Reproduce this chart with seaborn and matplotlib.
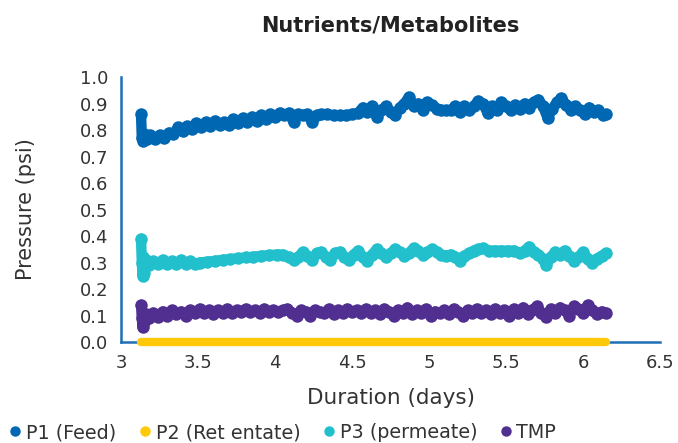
import matplotlib
matplotlib.use("Agg")
import matplotlib.pyplot as plt
import seaborn as sns
import pandas as pd
from matplotlib.lines import Line2D

# ---------------- data ----------------
p1_days = [3.13, 3.135, 3.14, 3.15, 3.17, 3.19, 3.22, 3.25, 3.28, 3.31, 3.34, 3.37, 3.40, 3.43, 3.46,
           3.49, 3.52, 3.55, 3.58, 3.61, 3.64, 3.67, 3.70, 3.73, 3.76, 3.79, 3.82, 3.85, 3.88, 3.91,
           3.94, 3.97, 4.00, 4.03, 4.06, 4.09, 4.12, 4.15, 4.18, 4.21, 4.24, 4.27, 4.30, 4.34, 4.38,
           4.42, 4.46, 4.50, 4.54, 4.57, 4.60, 4.63, 4.66, 4.69, 4.72, 4.75, 4.78, 4.81, 4.84, 4.87,
           4.90, 4.93, 4.96, 4.99, 5.02, 5.05, 5.08, 5.11, 5.14, 5.17, 5.20, 5.23, 5.26, 5.29, 5.32,
           5.35, 5.38, 5.41, 5.44, 5.47, 5.50, 5.53, 5.56, 5.59, 5.62, 5.65, 5.68, 5.71, 5.74, 5.77,
           5.80, 5.83, 5.86, 5.89, 5.92, 5.95, 5.98, 6.01, 6.04, 6.07, 6.10, 6.13, 6.15]
p1_feed = [0.86, 0.77, 0.76, 0.785, 0.765, 0.78, 0.765, 0.78, 0.77, 0.79, 0.785, 0.81, 0.795, 0.815, 0.805,
           0.825, 0.81, 0.83, 0.815, 0.835, 0.82, 0.83, 0.82, 0.84, 0.825, 0.845, 0.83, 0.85, 0.835, 0.855,
           0.84, 0.86, 0.85, 0.865, 0.855, 0.865, 0.83, 0.86, 0.855, 0.86, 0.83, 0.855, 0.86, 0.86, 0.855,
           0.855, 0.855, 0.86, 0.865, 0.885, 0.87, 0.89, 0.85, 0.875, 0.89, 0.87, 0.855, 0.885, 0.90, 0.925,
           0.89, 0.90, 0.875, 0.905, 0.895, 0.88, 0.875, 0.875, 0.875, 0.89, 0.87, 0.89, 0.875, 0.89, 0.91,
           0.90, 0.865, 0.89, 0.875, 0.905, 0.89, 0.875, 0.895, 0.88, 0.90, 0.885, 0.905, 0.915, 0.89, 0.845,
           0.88, 0.905, 0.92, 0.895, 0.875, 0.89, 0.875, 0.86, 0.885, 0.87, 0.875, 0.855, 0.86]

p2_days = [3.13, 3.5, 4.0, 4.5, 5.0, 5.5, 6.0, 6.15]
p2_retentate = [0.0, 0.0, 0.0, 0.0, 0.0, 0.0, 0.0, 0.0]

p3_days = [3.13, 3.135, 3.14, 3.145, 3.15, 3.16, 3.18, 3.21, 3.24, 3.27, 3.30, 3.33, 3.36, 3.39, 3.42,
           3.45, 3.48, 3.51, 3.56, 3.61, 3.66, 3.71, 3.76, 3.81, 3.86, 3.91, 3.96, 4.01, 4.05, 4.09,
           4.12, 4.15, 4.18, 4.21, 4.24, 4.27, 4.30, 4.33, 4.36, 4.39, 4.42, 4.45, 4.48, 4.51, 4.54,
           4.57, 4.60, 4.63, 4.66, 4.69, 4.72, 4.75, 4.78, 4.81, 4.84, 4.87, 4.90, 4.93, 4.96, 4.99,
           5.02, 5.05, 5.08, 5.11, 5.14, 5.17, 5.20, 5.23, 5.26, 5.29, 5.32, 5.35, 5.39, 5.43, 5.47,
           5.51, 5.55, 5.59, 5.62, 5.65, 5.68, 5.71, 5.74, 5.76, 5.79, 5.82, 5.85, 5.88, 5.91, 5.94,
           5.97, 6.00, 6.03, 6.06, 6.09, 6.12, 6.15]
p3_permeate = [0.39, 0.30, 0.25, 0.32, 0.26, 0.31, 0.29, 0.305, 0.295, 0.31, 0.295, 0.305, 0.295, 0.31, 0.295,
               0.305, 0.295, 0.30, 0.303, 0.306, 0.31, 0.313, 0.316, 0.319, 0.322, 0.325, 0.328, 0.33, 0.33, 0.32,
               0.31, 0.32, 0.34, 0.325, 0.31, 0.335, 0.34, 0.32, 0.31, 0.335, 0.34, 0.32, 0.31, 0.33, 0.345,
               0.32, 0.305, 0.33, 0.35, 0.335, 0.32, 0.335, 0.35, 0.34, 0.325, 0.335, 0.355, 0.345, 0.33, 0.34,
               0.35, 0.34, 0.33, 0.325, 0.33, 0.32, 0.305, 0.325, 0.335, 0.345, 0.35, 0.355, 0.345, 0.345, 0.345,
               0.345, 0.345, 0.335, 0.345, 0.36, 0.34, 0.33, 0.315, 0.29, 0.32, 0.34, 0.33, 0.345, 0.325, 0.305,
               0.32, 0.34, 0.315, 0.30, 0.315, 0.325, 0.335]

tmp_days = [3.13, 3.135, 3.14, 3.145, 3.15, 3.16, 3.18, 3.21, 3.24, 3.27, 3.30, 3.33, 3.36, 3.39, 3.42,
            3.45, 3.48, 3.51, 3.54, 3.57, 3.60, 3.63, 3.66, 3.69, 3.72, 3.75, 3.78, 3.81, 3.84, 3.87,
            3.90, 3.93, 3.96, 3.99, 4.02, 4.05, 4.08, 4.11, 4.14, 4.17, 4.20, 4.23, 4.26, 4.29, 4.32,
            4.35, 4.38, 4.41, 4.44, 4.47, 4.50, 4.53, 4.56, 4.59, 4.62, 4.65, 4.68, 4.71, 4.74, 4.77,
            4.80, 4.83, 4.86, 4.89, 4.92, 4.95, 4.98, 5.01, 5.04, 5.07, 5.10, 5.13, 5.16, 5.19, 5.22,
            5.25, 5.28, 5.31, 5.34, 5.37, 5.40, 5.43, 5.46, 5.49, 5.52, 5.55, 5.58, 5.61, 5.64, 5.67,
            5.70, 5.73, 5.76, 5.79, 5.82, 5.85, 5.88, 5.91, 5.94, 5.97, 6.00, 6.03, 6.06, 6.09, 6.12, 6.15]
tmp = [0.14, 0.09, 0.055, 0.10, 0.075, 0.105, 0.09, 0.11, 0.095, 0.115, 0.10, 0.12, 0.105, 0.115, 0.10,
       0.12, 0.11, 0.125, 0.11, 0.12, 0.105, 0.12, 0.11, 0.125, 0.11, 0.12, 0.115, 0.125, 0.115, 0.12,
       0.11, 0.125, 0.115, 0.12, 0.115, 0.12, 0.125, 0.11, 0.10, 0.12, 0.115, 0.10, 0.12, 0.115, 0.11,
       0.125, 0.105, 0.12, 0.11, 0.125, 0.115, 0.12, 0.11, 0.125, 0.11, 0.12, 0.105, 0.125, 0.115, 0.10,
       0.12, 0.11, 0.13, 0.105, 0.12, 0.11, 0.125, 0.10, 0.115, 0.11, 0.12, 0.105, 0.125, 0.115, 0.10,
       0.12, 0.11, 0.125, 0.11, 0.12, 0.105, 0.125, 0.11, 0.12, 0.10, 0.125, 0.11, 0.13, 0.105, 0.12,
       0.135, 0.11, 0.095, 0.125, 0.11, 0.13, 0.12, 0.10, 0.135, 0.125, 0.11, 0.14, 0.12, 0.105, 0.115, 0.11]

series_names = ["P1 (Feed)", "P2 (Ret entate)", "P3 (permeate)", "TMP"]
series_colors = ["#0067b3", "#ffc90a", "#22bfcd", "#512f91"]

x_ticks = [3, 3.5, 4, 4.5, 5, 5.5, 6, 6.5]
x_tick_labels = ["3", "3.5", "4", "4.5", "5", "5.5", "6", "6.5"]
y_ticks = [0.0, 0.1, 0.2, 0.3, 0.4, 0.5, 0.6, 0.7, 0.8, 0.9, 1.0]

# ---------------- style ----------------
sns.set_style("white")
plt.rcParams["font.family"] = ["DejaVu Sans"]

axis_blue = "#1f6fb7"
text_col = "#333333"

fig = plt.figure(figsize=(6.78, 4.43), dpi=100)
ax = fig.add_axes([0.1785, 0.228, 0.795, 0.598])

frames = {
    0: pd.DataFrame({"day": p1_days, "value": p1_feed}),
    2: pd.DataFrame({"day": p3_days, "value": p3_permeate}),
    3: pd.DataFrame({"day": tmp_days, "value": tmp}),
    1: pd.DataFrame({"day": p2_days, "value": p2_retentate}),
}
for idx, df in frames.items():
    n_before = len(ax.lines)
    if idx == 1:
        sns.lineplot(data=df, x="day", y="value", ax=ax, color=series_colors[idx],
                     estimator=None, sort=False)
        lw, ms = 6.0, 0
    else:
        sns.lineplot(data=df, x="day", y="value", ax=ax, color=series_colors[idx],
                     marker="o", estimator=None, sort=False)
        lw, ms = 7.5, 9.0
    for ln in ax.lines[n_before:]:
        ln.set_linewidth(lw)
        ln.set_solid_capstyle("round")
        ln.set_solid_joinstyle("round")
        ln.set_clip_on(False)
        ln.set_zorder(3)
        if ms:
            ln.set_markersize(ms)
            ln.set_markeredgewidth(0)

ax.set_xlim(3, 6.5)
ax.set_ylim(0, 1.0)
ax.set_xticks(x_ticks)
ax.set_xticklabels(x_tick_labels)
ax.set_yticks(y_ticks)
ax.set_yticklabels([f"{v:.1f}" for v in y_ticks])

for side in ["top", "right"]:
    ax.spines[side].set_visible(False)
for side in ["left", "bottom"]:
    ax.spines[side].set_color(axis_blue)
    ax.spines[side].set_linewidth(1.8)

ax.tick_params(axis="both", direction="out", length=6, width=1.8, color=axis_blue,
               labelsize=13, labelcolor=text_col, pad=3)
ax.grid(False)

ax.set_xlabel("Duration (days)", fontsize=15.5, color=text_col, labelpad=11)
ax.set_ylabel("Pressure (psi)", fontsize=15, color=text_col, labelpad=32)
ax.set_title("Nutrients/Metabolites", fontsize=15, fontweight="bold", color="#222222", pad=33)

handles = [Line2D([0], [0], marker="o", linestyle="none", markersize=7.5,
                  markerfacecolor=c, markeredgewidth=0) for c in series_colors]
fig.legend(handles, series_names, loc="lower left", bbox_to_anchor=(-0.014, -0.037), ncol=4,
           frameon=False, fontsize=13.8, handletextpad=0.15, columnspacing=1.1,
           handlelength=0.8, labelcolor=text_col)

fig.savefig("out.png", dpi=100)
